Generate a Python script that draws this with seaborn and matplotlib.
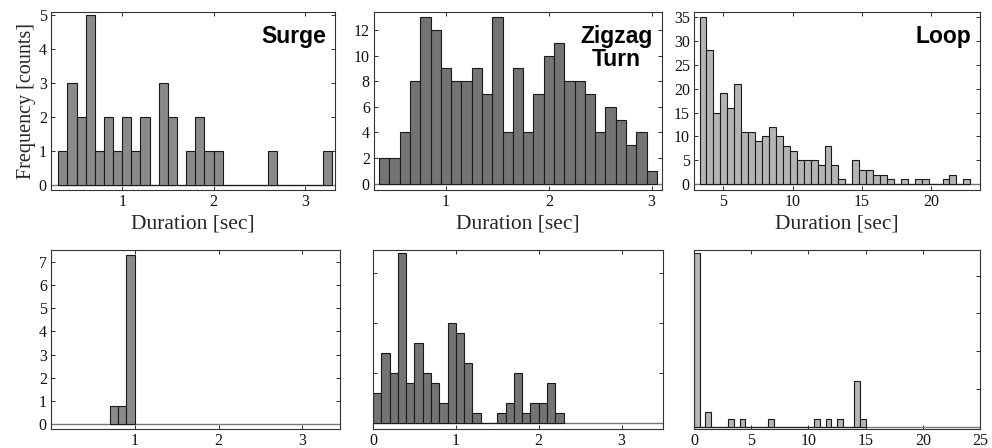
import numpy as np
import pandas as pd
import matplotlib
matplotlib.use("Agg")
import matplotlib.pyplot as plt
import seaborn as sns

# ---------------- data ----------------
# Top row: durations of behaviours (counts per bin)
surge_start, surge_width = 0.3, 0.1
surge_counts = [1, 3, 2, 5, 1, 2, 1, 2, 1, 2, 0, 3, 2, 0, 1, 2, 1, 1,
                0, 0, 0, 0, 0, 1, 0, 0, 0, 0, 0, 1]

zigzag_start, zigzag_width = 0.35, 0.1
zigzag_counts = [2, 2, 4, 8, 13, 12, 9, 8, 8, 9, 7, 13, 4, 9, 4, 7, 10, 11,
                 8, 8, 7, 4, 6, 5, 3, 4, 1]

loop_start, loop_width = 3.3, 0.5
loop_counts = [35, 28, 15, 19, 16, 21, 11, 11, 9, 10, 12, 10, 8, 7, 5, 5, 5, 4,
               8, 4, 1, 0, 5, 3, 3, 2, 2, 1, 0, 1, 0, 1, 1, 0, 0, 1, 2, 0, 1]

# Bottom row
bl_start, bl_width = 0.7, 0.1
bl_counts = [0.8, 0.8, 7.3]

bm_start, bm_width = 0.0, 0.1
bm_counts = [3, 7, 5, 17, 4, 8, 5, 4, 2, 10, 9, 6, 1, 0, 0, 1, 2, 5, 1, 2, 2, 4, 1]

br_start, br_width = 0.0, 0.5
br_counts = [23, 0, 2, 0, 0, 0, 1, 0, 1, 0, 0, 0, 0, 1, 0, 0, 0, 0, 0, 0, 0,
             1, 0, 1, 0, 1, 0, 0, 6, 1]

titles = ["Surge", "Zigzag\nTurn", "Loop"]
x_label = "Duration [sec]"
y_label = "Frequency [counts]"

# ---------------- style ----------------
sns.set_theme(style="ticks")
plt.rcParams["font.family"] = ["Liberation Serif", "DejaVu Serif"]

fig = plt.figure(figsize=(9.92, 4.48), dpi=100)

panels = [
    # (start, width, counts, rect, color, xlim, ylim, xticks, yticks, show_ylabels)
    (surge_start, surge_width, surge_counts, [0.0514, 0.5759, 0.2863, 0.397], "#8a8a8a",
     (0.22, 3.33), (-0.15, 5.09), [1, 2, 3], [0, 1, 2, 3, 4, 5], True),
    (zigzag_start, zigzag_width, zigzag_counts, [0.377, 0.5759, 0.2903, 0.397], "#747474",
     (0.30, 3.10), (-0.5, 13.4), [1, 2, 3], [0, 2, 4, 6, 8, 10, 12], True),
    (loop_start, loop_width, loop_counts, [0.6996, 0.5759, 0.2883, 0.397], "#b4b4b4",
     (2.9, 23.5), (-1.2, 36.0), [5, 10, 15, 20], [0, 5, 10, 15, 20, 25, 30, 35], True),
    (bl_start, bl_width, bl_counts, [0.0514, 0.0424, 0.2913, 0.3996], "#8a8a8a",
     (0.0, 3.45), (-0.2, 7.5), [1, 2, 3], [0, 1, 2, 3, 4, 5, 6, 7], True),
    (bm_start, bm_width, bm_counts, [0.376, 0.0424, 0.2923, 0.3996], "#747474",
     (0.0, 3.5), (-0.55, 17.3), [0, 1, 2, 3], [0, 5, 10, 15], False),
    (br_start, br_width, br_counts, [0.6996, 0.0424, 0.2883, 0.3996], "#b4b4b4",
     (0.0, 25.0), (-0.3, 23.4), [0, 5, 10, 15, 20, 25], [0, 5, 10, 15, 20], False),
]

axes = []
for i, (start, width, counts, rect, color, xlim, ylim, xt, yt, showy) in enumerate(panels):
    ax = fig.add_axes(rect)
    n = len(counts)
    edges = start + width * np.arange(n + 1)
    centers = edges[:-1] + width / 2
    df = pd.DataFrame({"x": centers, "w": counts})
    ax.axhline(0, color="#777777", lw=1.0, zorder=1)
    sns.histplot(data=df, x="x", weights="w", bins=[float(e) for e in edges], ax=ax,
                 color=color, alpha=1.0, edgecolor="#1a1a1a", linewidth=0.8, zorder=2)
    ax.set_xlim(*xlim)
    ax.set_ylim(*ylim)
    ax.set_xticks(xt)
    ax.set_yticks(yt)
    if not showy:
        ax.set_yticklabels([])
    ax.tick_params(direction="in", length=3, width=0.6, labelsize=11.5,
                   top=True, right=True, pad=3, colors="#111111")
    for s in ax.spines.values():
        s.set_visible(True)
        s.set_linewidth(0.8)
        s.set_color("#333333")
    ax.set_ylabel("")
    ax.set_xlabel("")
    if i < 3:
        ax.set_xlabel(x_label, fontsize=15.5, labelpad=3)
        ax.text(0.968, 0.925, titles[i], transform=ax.transAxes, ha="right", va="top",
                multialignment="center", fontfamily="Liberation Sans",
                fontweight="bold", fontsize=16.5, color="black", linespacing=1.0)
    axes.append(ax)

axes[0].set_ylabel(y_label, fontsize=14.5, labelpad=2)

fig.savefig("out.png", dpi=100, facecolor="white")
